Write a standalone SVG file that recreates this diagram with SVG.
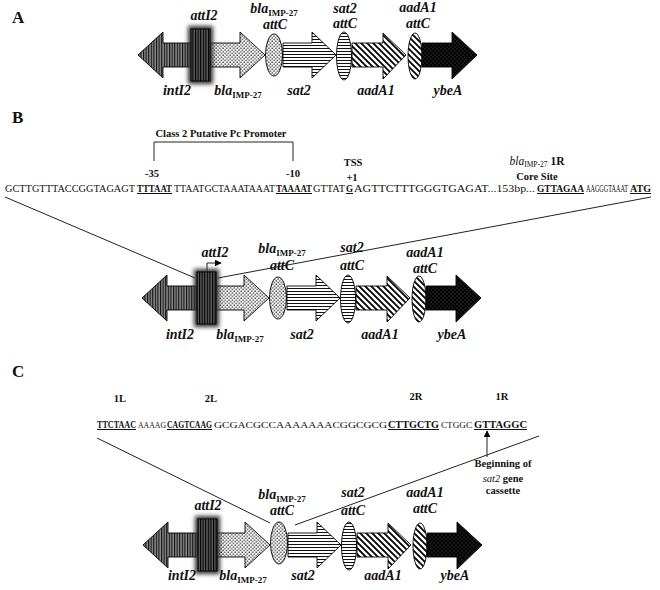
<svg xmlns="http://www.w3.org/2000/svg" width="660" height="590" viewBox="0 0 660 590">
<defs>
<pattern id="pV" width="2.6" height="4" patternUnits="userSpaceOnUse"><rect width="2.6" height="4" fill="#8a8a8a"/><rect width="1.1" height="4" fill="#111"/></pattern>
<pattern id="pVd" width="2.6" height="4" patternUnits="userSpaceOnUse"><rect width="2.6" height="4" fill="#5a5a5a"/><rect width="1.1" height="4" fill="#000"/></pattern>
<pattern id="pDot" width="3.5" height="3.5" patternUnits="userSpaceOnUse"><rect width="3.5" height="3.5" fill="#fff"/><circle cx="1" cy="1" r="0.75" fill="#333"/><circle cx="2.75" cy="2.75" r="0.75" fill="#333"/></pattern>
<pattern id="pH" width="4" height="3" patternUnits="userSpaceOnUse"><rect width="4" height="3" fill="#fff"/><rect y="0" width="4" height="1" fill="#111"/></pattern>
<pattern id="pD" width="6" height="6" patternUnits="userSpaceOnUse"><rect width="6" height="6" fill="#fff"/><path d="M-1,-1 L7,7 M-1,5 L1,7 M5,-1 L7,1" stroke="#000" stroke-width="1.8"/></pattern>
<pattern id="pB" width="4" height="4" patternUnits="userSpaceOnUse"><rect width="4" height="4" fill="#000"/><circle cx="1" cy="1" r="0.5" fill="#777"/><circle cx="3" cy="3" r="0.5" fill="#777"/></pattern>
<filter id="glow" x="-50%" y="-30%" width="200%" height="160%"><feGaussianBlur stdDeviation="2.2"/></filter>
<marker id="ah" viewBox="0 0 10 10" refX="9" refY="5" markerWidth="7" markerHeight="7" orient="auto"><path d="M0,0 L10,5 L0,10 z" fill="#000"/></marker>
<style>
.sh{stroke:#000;stroke-width:0.9}
.gl{font-family:"Liberation Serif",serif;font-weight:bold;font-style:italic;font-size:14px;fill:#111}
.sub{font-style:normal;font-size:9px}
.pl{font-family:"Liberation Serif",serif;font-weight:bold;font-size:17px;fill:#111}
.lb{font-family:"Liberation Serif",serif;font-weight:bold;font-size:10.5px;fill:#111}
.sqt{font-family:"Liberation Serif",serif;font-size:9.5px;fill:#111}
.u{font-size:10px;font-weight:bold;text-decoration:underline}
.ln{stroke:#222;stroke-width:1;fill:none}
</style>
</defs>
<rect width="660" height="590" fill="#fff"/>

<!-- Panel A -->
<text class="pl" x="12" y="23">A</text>
<g id="a-row">
<g id="a-intI2"><polygon class="sh" fill="url(#pV)" points="138,55 163,32 163,43 195,43 195,67 163,67 163,78"/></g>
<g id="a-bla"><polygon class="sh" fill="url(#pDot)" points="210,43 240,43 240,32 265,55 240,78 240,67 210,67"/></g>
<g id="a-attI2"><rect x="188" y="26" width="25" height="58" fill="#333" filter="url(#glow)"/><rect class="sh" x="191" y="29" width="19" height="52" fill="url(#pVd)"/></g>
<g id="a-blaattC"><ellipse class="sh" cx="274" cy="55" rx="8.5" ry="21" fill="url(#pDot)"/></g>
<g id="a-sat2"><polygon class="sh" fill="url(#pH)" points="283,43 312,43 312,32 336,55 312,78 312,67 283,67"/></g>
<g id="a-sat2attC"><ellipse class="sh" cx="344" cy="56" rx="7.5" ry="24" fill="url(#pH)"/></g>
<g id="a-aadA1"><polygon class="sh" fill="url(#pD)" points="352,43 383,43 383,33 406,55 383,79 383,67 352,67"/></g>
<g id="a-aadA1attC"><ellipse class="sh" cx="415" cy="56" rx="7" ry="23" fill="url(#pD)"/></g>
<g id="a-ybeA"><polygon class="sh" fill="url(#pB)" points="422,43 452,43 452,32 477,55 452,79 452,67 422,67"/></g>
</g>
<g id="a-labels">
<text class="gl" x="204" y="20" text-anchor="middle">attI2</text>
<text class="gl" x="274" y="13" text-anchor="middle">bla<tspan class="sub" dy="3">IMP-27</tspan></text>
<text class="gl" x="275" y="29" text-anchor="middle">attC</text>
<text class="gl" x="345" y="13" text-anchor="middle">sat2</text>
<text class="gl" x="345" y="28" text-anchor="middle">attC</text>
<text class="gl" x="418" y="12" text-anchor="middle">aadA1</text>
<text class="gl" x="418" y="28" text-anchor="middle">attC</text>
<text class="gl" x="177" y="95" text-anchor="middle">intI2</text>
<text class="gl" x="238" y="95" text-anchor="middle">bla<tspan class="sub" dy="3">IMP-27</tspan></text>
<text class="gl" x="299" y="95" text-anchor="middle">sat2</text>
<text class="gl" x="376" y="95" text-anchor="middle">aadA1</text>
<text class="gl" x="448" y="95" text-anchor="middle">ybeA</text>
</g>

<!-- Panel B -->
<text class="pl" x="12" y="123">B</text>
<g id="b-annot">
<text class="lb" x="221" y="137" text-anchor="middle">Class 2 Putative Pc Promoter</text>
<path class="ln" d="M154,161 V142 H293 V161"/>
<text class="lb" x="152" y="177" text-anchor="middle">-35</text>
<text class="lb" x="293" y="177" text-anchor="middle">-10</text>
<text class="lb" x="353" y="166" text-anchor="middle">TSS</text>
<text class="lb" x="352" y="181" text-anchor="middle">+1</text>
<text class="lb" x="537" y="165" text-anchor="middle"><tspan font-style="italic" font-weight="normal" font-size="11.5">bla</tspan><tspan font-size="7.5" font-weight="normal" dy="2">IMP-27</tspan><tspan dy="-2" font-size="11.5"> 1R</tspan></text>
<text class="lb" x="537" y="180" text-anchor="middle">Core Site</text>
</g>
<g id="b-seq">
<text class="sqt" y="192"><tspan x="5" textLength="130" lengthAdjust="spacingAndGlyphs">GCTTGTTTACCGGTAGAGT</tspan><tspan class="u" x="137" textLength="35" lengthAdjust="spacingAndGlyphs">TTTAAT</tspan><tspan x="174" textLength="101" lengthAdjust="spacingAndGlyphs">TTAATGCTAAATAAAT</tspan><tspan class="u" x="276" textLength="36" lengthAdjust="spacingAndGlyphs">TAAAAT</tspan><tspan x="313" textLength="32" lengthAdjust="spacingAndGlyphs">GTTAT</tspan><tspan class="u" x="346" textLength="7" lengthAdjust="spacingAndGlyphs">G</tspan><tspan x="354" textLength="181" lengthAdjust="spacingAndGlyphs">AGTTCTTTGGGTGAGAT...153bp...</tspan><tspan class="u" x="537" textLength="47" lengthAdjust="spacingAndGlyphs">GTTAGAA</tspan><tspan x="586" textLength="42" lengthAdjust="spacingAndGlyphs">AAGGGTAAAT</tspan><tspan class="u" x="630" textLength="21" lengthAdjust="spacingAndGlyphs">ATG</tspan></text>
</g>
<g id="b-connectors">
<path class="ln" d="M5,197 L195,278"/>
<path class="ln" d="M651,197 L218,278"/>
<path class="ln" d="M207,275 V263 H221" marker-end="url(#ah)"/>
</g>
<g id="b-row" transform="translate(4,243)">
<g id="b-intI2"><polygon class="sh" fill="url(#pV)" points="138,55 163,32 163,43 195,43 195,67 163,67 163,78"/></g>
<g id="b-bla"><polygon class="sh" fill="url(#pDot)" points="210,43 240,43 240,32 265,55 240,78 240,67 210,67"/></g>
<g id="b-attI2"><rect x="190" y="26" width="25" height="58" fill="#333" filter="url(#glow)"/><rect class="sh" x="193" y="29" width="19" height="52" fill="url(#pVd)"/></g>
<g id="b-blaattC"><ellipse class="sh" cx="274" cy="55" rx="8.5" ry="21" fill="url(#pDot)"/></g>
<g id="b-sat2"><polygon class="sh" fill="url(#pH)" points="283,43 312,43 312,32 336,55 312,78 312,67 283,67"/></g>
<g id="b-sat2attC"><ellipse class="sh" cx="344" cy="56" rx="7.5" ry="24" fill="url(#pH)"/></g>
<g id="b-aadA1"><polygon class="sh" fill="url(#pD)" points="352,43 383,43 383,33 406,55 383,79 383,67 352,67"/></g>
<g id="b-aadA1attC"><ellipse class="sh" cx="415" cy="56" rx="7" ry="23" fill="url(#pD)"/></g>
<g id="b-ybeA"><polygon class="sh" fill="url(#pB)" points="422,43 452,43 452,32 477,55 452,79 452,67 422,67"/></g>
</g>
<g id="b-labels">
<text class="gl" x="215" y="257" text-anchor="middle">attI2</text>
<text class="gl" x="282" y="253" text-anchor="middle">bla<tspan class="sub" dy="3">IMP-27</tspan></text>
<text class="gl" x="282" y="270" text-anchor="middle">attC</text>
<text class="gl" x="352" y="252" text-anchor="middle">sat2</text>
<text class="gl" x="352" y="270" text-anchor="middle">attC</text>
<text class="gl" x="425" y="257" text-anchor="middle">aadA1</text>
<text class="gl" x="425" y="273" text-anchor="middle">attC</text>
<text class="gl" x="180" y="339" text-anchor="middle">intI2</text>
<text class="gl" x="240" y="339" text-anchor="middle">bla<tspan class="sub" dy="3">IMP-27</tspan></text>
<text class="gl" x="302" y="339" text-anchor="middle">sat2</text>
<text class="gl" x="380" y="339" text-anchor="middle">aadA1</text>
<text class="gl" x="452" y="339" text-anchor="middle">ybeA</text>
</g>

<!-- Panel C -->
<text class="pl" x="12" y="377">C</text>
<g id="c-annot">
<text class="lb" x="120" y="402" text-anchor="middle">1L</text>
<text class="lb" x="211" y="402" text-anchor="middle">2L</text>
<text class="lb" x="416" y="400" text-anchor="middle">2R</text>
<text class="lb" x="502" y="400" text-anchor="middle">1R</text>
</g>
<g id="c-seq">
<text class="sqt" y="428"><tspan class="u" x="97" textLength="39" lengthAdjust="spacingAndGlyphs">TTCTAAC</tspan><tspan x="138" font-size="8" textLength="28" lengthAdjust="spacingAndGlyphs">AAAAG</tspan><tspan class="u" x="167" textLength="45" lengthAdjust="spacingAndGlyphs">CAGTCAAG</tspan><tspan x="214" font-size="8.5" textLength="173" lengthAdjust="spacingAndGlyphs">GCGACGCCAAAAAAACGGCGCG</tspan><tspan class="u" x="388" textLength="51" lengthAdjust="spacingAndGlyphs">CTTGCTG</tspan><tspan x="441" font-size="8" textLength="31" lengthAdjust="spacingAndGlyphs">CTGGC</tspan><tspan class="u" x="474" textLength="53" lengthAdjust="spacingAndGlyphs">GTTAGGC</tspan></text>
</g>
<g id="c-connectors">
<path class="ln" d="M97,438 L270,523"/>
<path class="ln" d="M295,525 L539,436"/>
<path class="ln" d="M487,457 V431" marker-end="url(#ah)"/>
</g>
<g id="c-note">
<text class="lb" x="503" y="467" text-anchor="middle">Beginning of</text>
<text class="lb" x="503" y="482" text-anchor="middle"><tspan font-style="italic" font-weight="normal">sat2</tspan> gene</text>
<text class="lb" x="503" y="494" text-anchor="middle">cassette</text>
</g>
<g id="c-row" transform="translate(5,490)">
<g id="c-intI2"><polygon class="sh" fill="url(#pV)" points="138,55 163,32 163,43 195,43 195,67 163,67 163,78"/></g>
<g id="c-bla"><polygon class="sh" fill="url(#pDot)" points="210,43 240,43 240,32 265,55 240,78 240,67 210,67"/></g>
<g id="c-attI2"><rect x="190" y="26" width="25" height="58" fill="#333" filter="url(#glow)"/><rect class="sh" x="193" y="29" width="19" height="52" fill="url(#pVd)"/></g>
<g id="c-blaattC"><ellipse class="sh" cx="274" cy="53" rx="8.5" ry="21" fill="url(#pDot)"/></g>
<g id="c-sat2"><polygon class="sh" fill="url(#pH)" points="283,43 312,43 312,32 336,55 312,78 312,67 283,67"/></g>
<g id="c-sat2attC"><ellipse class="sh" cx="344" cy="56" rx="7.5" ry="24" fill="url(#pH)"/></g>
<g id="c-aadA1"><polygon class="sh" fill="url(#pD)" points="352,43 383,43 383,33 406,55 383,79 383,67 352,67"/></g>
<g id="c-aadA1attC"><ellipse class="sh" cx="415" cy="56" rx="7" ry="23" fill="url(#pD)"/></g>
<g id="c-ybeA"><polygon class="sh" fill="url(#pB)" points="422,43 452,43 452,32 477,55 452,79 452,67 422,67"/></g>
</g>
<g id="c-labels">
<text class="gl" x="208" y="510" text-anchor="middle">attI2</text>
<text class="gl" x="282" y="499" text-anchor="middle">bla<tspan class="sub" dy="3">IMP-27</tspan></text>
<text class="gl" x="282" y="515" text-anchor="middle">attC</text>
<text class="gl" x="353" y="497" text-anchor="middle">sat2</text>
<text class="gl" x="353" y="515" text-anchor="middle">attC</text>
<text class="gl" x="425" y="497" text-anchor="middle">aadA1</text>
<text class="gl" x="425" y="513" text-anchor="middle">attC</text>
<text class="gl" x="182" y="580" text-anchor="middle">intI2</text>
<text class="gl" x="243" y="580" text-anchor="middle">bla<tspan class="sub" dy="3">IMP-27</tspan></text>
<text class="gl" x="303" y="580" text-anchor="middle">sat2</text>
<text class="gl" x="383" y="580" text-anchor="middle">aadA1</text>
<text class="gl" x="455" y="580" text-anchor="middle">ybeA</text>
</g>
</svg>
